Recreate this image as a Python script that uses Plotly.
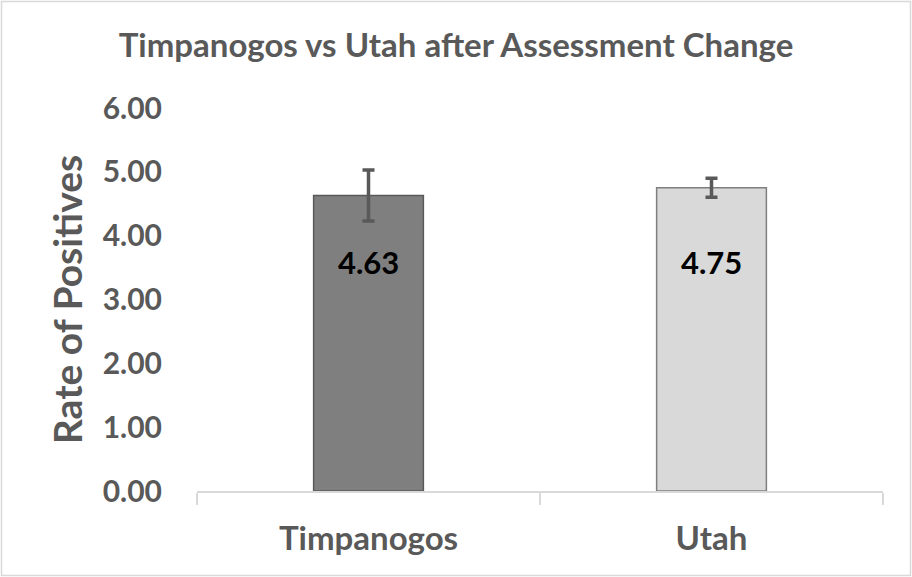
import plotly.graph_objects as go

categories = ["Timpanogos", "Utah"]
values = [4.63, 4.75]
errors = [0.40, 0.15]
label_texts = ["4.63", "4.75"]
label_y = [3.58, 3.58]
tick_vals = [0, 1, 2, 3, 4, 5, 6]
tick_text = ["0.00", "1.00", "2.00", "3.00", "4.00", "5.00", "6.00"]

W, H = 912, 577
ML, MR, MT, MB = 197, 29, 108, 86
PW, PH = W - ML - MR, H - MT - MB

FONT = "Lato"
GRAY = "#595959"

fig = go.Figure()
fills = ["#7F7F7F", "#D9D9D9"]
lines = ["#595959", "#7F7F7F"]
for c, v, e, f, l in zip(categories, values, errors, fills, lines):
    fig.add_trace(go.Bar(
        x=[c], y=[v], width=0.32,
        marker=dict(color=f, line=dict(color=l, width=1.5)),
        error_y=dict(type="data", array=[e], visible=True, color=GRAY,
                     thickness=3.5, width=6),
        showlegend=False, hoverinfo="skip",
    ))

for c, t, ly in zip(categories, label_texts, label_y):
    fig.add_annotation(x=c, y=ly, text=t, showarrow=False,
                       font=dict(family=FONT, size=31, color="black", weight="bold"))

def px_to_paper_x(px):
    return (px - ML) / PW

def px_to_paper_y(py):
    return (H - MB - py) / PH

fig.add_shape(type="rect", xref="paper", yref="paper",
              x0=px_to_paper_x(1.5), x1=px_to_paper_x(910.5),
              y0=px_to_paper_y(575.5), y1=px_to_paper_y(1.5),
              line=dict(color="#D9D9D9", width=1.5), layer="below")

fig.update_layout(
    width=W, height=H,
    margin=dict(l=ML, r=MR, t=MT, b=MB),
    paper_bgcolor="white", plot_bgcolor="white",
    title=dict(text="Timpanogos vs Utah after Assessment Change",
               x=0.5, xref="container", xanchor="center",
               y=1 - 45 / H, yanchor="middle",
               font=dict(family=FONT, size=33, color=GRAY, weight="bold")),
    bargap=0.68,
    xaxis=dict(showline=True, linecolor="#D9D9D9", linewidth=1.5,
               ticks="outside", tickson="boundaries", ticklen=12,
               tickcolor="#D9D9D9", tickwidth=1.5, ticklabelstandoff=18,
               tickfont=dict(family=FONT, size=33, color=GRAY, weight="bold"),
               showgrid=False, zeroline=False, fixedrange=True),
    yaxis=dict(range=[0, 6], tickvals=tick_vals, ticktext=tick_text,
               showgrid=False, zeroline=False, showline=False,
               ticks="", ticklabelstandoff=34, fixedrange=True,
               tickfont=dict(family=FONT, size=30, color=GRAY, weight="bold"),
               title=dict(text="Rate of Positives", standoff=8,
                          font=dict(family=FONT, size=39, color=GRAY, weight="bold"))),
)

fig.write_html("out.html", config={"displayModeBar": False},
               post_script="document.body.style.margin='0';")
